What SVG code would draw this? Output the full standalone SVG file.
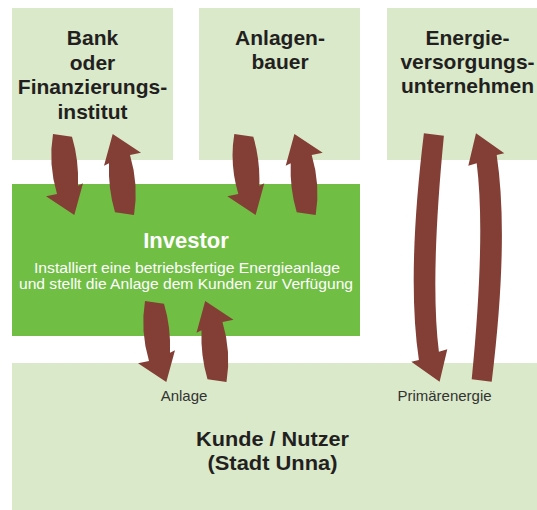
<svg xmlns="http://www.w3.org/2000/svg" xmlns:xlink="http://www.w3.org/1999/xlink" width="537" height="510" viewBox="0 0 537 510">
<style>
.light{fill:#d9e9ca}
.mid{fill:#71be45}
.arrow{fill:#833f35}
.title{font-family:"Liberation Sans",Arial,sans-serif;font-weight:bold;font-size:21px;fill:#231f20;text-anchor:middle}
.big{font-size:22px}
.white{fill:#ffffff}
.sub{font-family:"Liberation Sans",Arial,sans-serif;font-size:15.5px;fill:#ffffff;text-anchor:middle}
.lbl{font-family:"Liberation Sans",Arial,sans-serif;font-size:15px;fill:#333333;text-anchor:middle}
</style>
<defs>
<path id="arrS" d="M -9.8,-40.5 L 18.5,-21.8 L 7.5,-19.5 Q 16.45,10.5 11.5,40.5 L -7.5,37.8 Q -14.5,14.3 -13.5,-11.2 L -18.5,-8.8 Z"/>
<path id="arrL" d="M -10.3,-124.2 L 18,-104.2 L 10.4,-102.5 Q 22.9,-19.25 5.4,124.2 L -14.6,121.8 Q -0.5,-22.2 -9.6,-94.2 L -18,-91.8 Z"/>
</defs>
<rect width="537" height="510" fill="#ffffff"/>
<g id="bank">
<rect class="light" x="12" y="8" width="161" height="152"/>
<text class="title" x="92.5" y="45">Bank</text>
<text class="title" x="92.5" y="69.5">oder</text>
<text class="title" x="92.5" y="94">Finanzierungs-</text>
<text class="title" x="92.5" y="118.5">institut</text>
</g>
<g id="anlagenbauer">
<rect class="light" x="199" y="8" width="161" height="152"/>
<text class="title" x="280" y="45">Anlagen-</text>
<text class="title" x="280" y="69">bauer</text>
</g>
<g id="energie">
<rect class="light" x="387" y="8" width="150" height="152"/>
<text class="title" x="467.5" y="45">Energie-</text>
<text class="title" x="467.5" y="69">versorgungs-</text>
<text class="title" x="467.5" y="93">unternehmen</text>
</g>
<g id="investor">
<rect class="mid" x="12" y="184" width="348" height="152"/>
<text class="title big white" x="186" y="248">Investor</text>
<text class="sub" x="187" y="272.5" textLength="306" lengthAdjust="spacingAndGlyphs">Installiert eine betriebsfertige Energieanlage</text>
<text class="sub" x="186" y="289" textLength="334" lengthAdjust="spacingAndGlyphs">und stellt die Anlage dem Kunden zur Verfügung</text>
</g>
<g id="kunde">
<rect class="light" x="12" y="363" width="525" height="147"/>
<text class="title" x="272.5" y="446" textLength="153" lengthAdjust="spacingAndGlyphs">Kunde / Nutzer</text>
<text class="title" x="272.5" y="469.5" textLength="130" lengthAdjust="spacingAndGlyphs">(Stadt Unna)</text>
</g>
<g id="connectors">
<use class="arrow" xlink:href="#arrS" href="#arrS" transform="translate(64.5,174.5) rotate(180)"/>
<use class="arrow" xlink:href="#arrS" href="#arrS" transform="translate(122.5,174.5)"/>
<use class="arrow" xlink:href="#arrS" href="#arrS" transform="translate(245.8,174.5) rotate(180)"/>
<use class="arrow" xlink:href="#arrS" href="#arrS" transform="translate(304.2,174.5)"/>
<use class="arrow" xlink:href="#arrS" href="#arrS" transform="translate(156.5,341.5) rotate(180)"/>
<use class="arrow" xlink:href="#arrS" href="#arrS" transform="translate(215,341.5)"/>
<use class="arrow" xlink:href="#arrL" href="#arrL" transform="translate(429.3,257.5) rotate(180)"/>
<use class="arrow" xlink:href="#arrL" href="#arrL" transform="translate(486.3,257.5)"/>
<text class="lbl" x="184" y="400.5">Anlage</text>
<text class="lbl" x="444.5" y="400.5">Primärenergie</text>
</g>
</svg>
